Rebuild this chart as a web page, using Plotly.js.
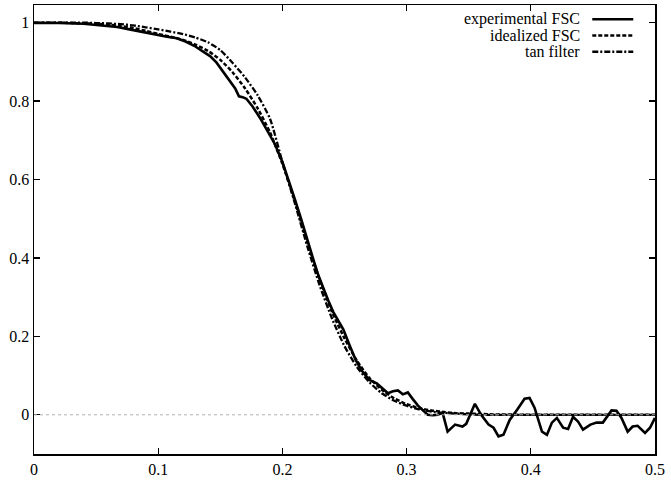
<!DOCTYPE html>
<html>
<head>
<meta charset="utf-8">
<script src="https://cdn.plot.ly/plotly-3.0.1.min.js"></script>
<style>
  html, body { margin: 0; padding: 0; background: #fff; }
  #chart { width: 671px; height: 481px; }
</style>
</head>
<body>
<div id="chart"></div>
<script>
// experimental FSC (irregular spacing)
const expX = [0, 0.02, 0.04, 0.053, 0.067, 0.080, 0.093, 0.100, 0.107, 0.115, 0.122, 0.129, 0.136, 0.142, 0.147, 0.152, 0.157, 0.162, 0.165, 0.168, 0.171, 0.176, 0.182, 0.188, 0.194, 0.200, 0.205, 0.210, 0.215, 0.220, 0.225, 0.229, 0.233, 0.237, 0.241, 0.245, 0.249, 0.254, 0.259, 0.264, 0.270, 0.276, 0.281, 0.285, 0.289, 0.293, 0.297, 0.301, 0.305, 0.309, 0.313, 0.317, 0.321, 0.325, 0.329, 0.333, 0.339, 0.345, 0.348, 0.355, 0.360, 0.366, 0.370, 0.374, 0.378, 0.383, 0.389, 0.395, 0.399, 0.403, 0.409, 0.413, 0.417, 0.421, 0.426, 0.430, 0.434, 0.438, 0.442, 0.448, 0.453, 0.458, 0.465, 0.469, 0.473, 0.478, 0.482, 0.486, 0.492, 0.496, 0.500];
const expY = [0.999, 0.999, 0.997, 0.994, 0.989, 0.981, 0.972, 0.968, 0.964, 0.960, 0.952, 0.941, 0.926, 0.914, 0.898, 0.877, 0.855, 0.832, 0.812, 0.810, 0.806, 0.786, 0.757, 0.725, 0.690, 0.645, 0.600, 0.550, 0.500, 0.445, 0.395, 0.355, 0.322, 0.291, 0.262, 0.240, 0.218, 0.178, 0.140, 0.112, 0.089, 0.080, 0.065, 0.055, 0.060, 0.062, 0.052, 0.057, 0.040, 0.024, 0.012, 0.000, -0.001, 0.000, 0.005, -0.043, -0.025, -0.030, -0.023, 0.028, 0.000, -0.025, -0.033, -0.055, -0.051, -0.013, 0.013, 0.041, 0.043, 0.018, -0.043, -0.051, -0.020, -0.008, -0.033, -0.036, -0.005, -0.017, -0.038, -0.025, -0.020, -0.020, 0.011, 0.010, -0.008, -0.043, -0.030, -0.028, -0.046, -0.033, -0.008];

// smooth curves on a 0.01 grid
const freq = [0.00, 0.01, 0.02, 0.03, 0.04, 0.05, 0.06, 0.07, 0.08, 0.09,
              0.10, 0.11, 0.12, 0.13, 0.14, 0.15, 0.16, 0.17, 0.18, 0.19,
              0.20, 0.21, 0.22, 0.23, 0.24, 0.25, 0.26, 0.27, 0.28, 0.29,
              0.30, 0.31, 0.32, 0.33, 0.34, 0.35, 0.36, 0.37, 0.38, 0.39,
              0.40, 0.41, 0.42, 0.43, 0.44, 0.45, 0.46, 0.47, 0.48, 0.49, 0.50];
const idealFSC = [1.000, 1.000, 1.000, 0.999, 0.998, 0.997, 0.995, 0.991, 0.986, 0.979,
                  0.971, 0.964, 0.956, 0.944, 0.928, 0.905, 0.873, 0.832, 0.782, 0.720,
                  0.640, 0.545, 0.440, 0.345, 0.262, 0.195, 0.138, 0.094, 0.064, 0.042,
                  0.027, 0.017, 0.011, 0.007, 0.004, 0.003, 0.002, 0.001, 0.001, 0,
                  0, 0, 0, 0, 0, 0, 0, 0, 0, 0, 0];
const tanFilter = [1.000, 1.000, 1.000, 1.000, 1.000, 0.999, 0.998, 0.996, 0.993, 0.988,
                   0.983, 0.977, 0.971, 0.962, 0.950, 0.930, 0.897, 0.860, 0.815, 0.755,
                   0.645, 0.540, 0.430, 0.330, 0.245, 0.175, 0.122, 0.083, 0.055, 0.036,
                   0.023, 0.014, 0.008, 0.005, 0.003, 0.001, 0, 0, 0, 0,
                   0, 0, 0, 0, 0, 0, 0, 0, 0, 0, 0];

const seriesNames = ["experimental FSC", "idealized FSC", "tan filter"];
const DASH_IDEAL = "4px,2px";
const DASH_TAN = "6px,2px,2px,2px";
const SERIF = "Liberation Serif, serif";

const traces = [
    {
        x: expX, y: expY, name: seriesNames[0], mode: "lines",
        line: { color: "#000", width: 2.6 },
    },
    {
        x: freq, y: idealFSC, name: seriesNames[1], mode: "lines",
        line: { color: "#000", width: 2.5, dash: DASH_IDEAL, shape: "spline", smoothing: 0.6 },
    },
    {
        x: freq, y: tanFilter, name: seriesNames[2], mode: "lines",
        line: { color: "#000", width: 2.3, dash: DASH_TAN, shape: "spline", smoothing: 0.6 },
    },
];

const axisCommon = {
    showline: true, linecolor: "#000", linewidth: 1.5, mirror: "allticks",
    ticks: "inside", ticklen: 6, tickwidth: 1.2, tickcolor: "#000",
    showgrid: false, zeroline: false,
    tickfont: { family: SERIF, size: 16, color: "#000" },
};

// hand-made legend: text right-aligned, sample line to its right
const legendY = [0.968, 0.932, 0.896];
const legendDash = ["solid", DASH_IDEAL, DASH_TAN];
const annotations = seriesNames.map((name, i) => ({
    xref: "paper", yref: "paper", x: 0.883, y: legendY[i],
    xanchor: "right", yanchor: "middle", showarrow: false, text: name,
    font: { family: SERIF, size: 16, color: "#000" },
}));
const shapes = [{
    type: "line", xref: "paper", yref: "y", x0: 0, x1: 1, y0: 0, y1: 0,
    line: { color: "#b0b0b0", width: 1, dash: "dot" },
}].concat(seriesNames.map((_, i) => ({
    type: "line", xref: "paper", yref: "paper",
    x0: 0.899, x1: 0.965, y0: legendY[i], y1: legendY[i],
    line: { color: "#000", width: 2.5, dash: legendDash[i] },
})));

const layout = {
    width: 671, height: 481,
    margin: { t: 5, b: 27, l: 34, r: 16 },
    paper_bgcolor: "#fff", plot_bgcolor: "#fff",
    showlegend: false,
    xaxis: Object.assign({}, axisCommon, { range: [0, 0.5], dtick: 0.1 }),
    yaxis: Object.assign({}, axisCommon, { range: [-0.1, 1.045], dtick: 0.2 }),
    annotations, shapes,
    font: { family: SERIF, size: 16, color: "#000" },
};

Plotly.newPlot("chart", traces, layout, { displayModeBar: false, staticPlot: true });
</script>
</body>
</html>
